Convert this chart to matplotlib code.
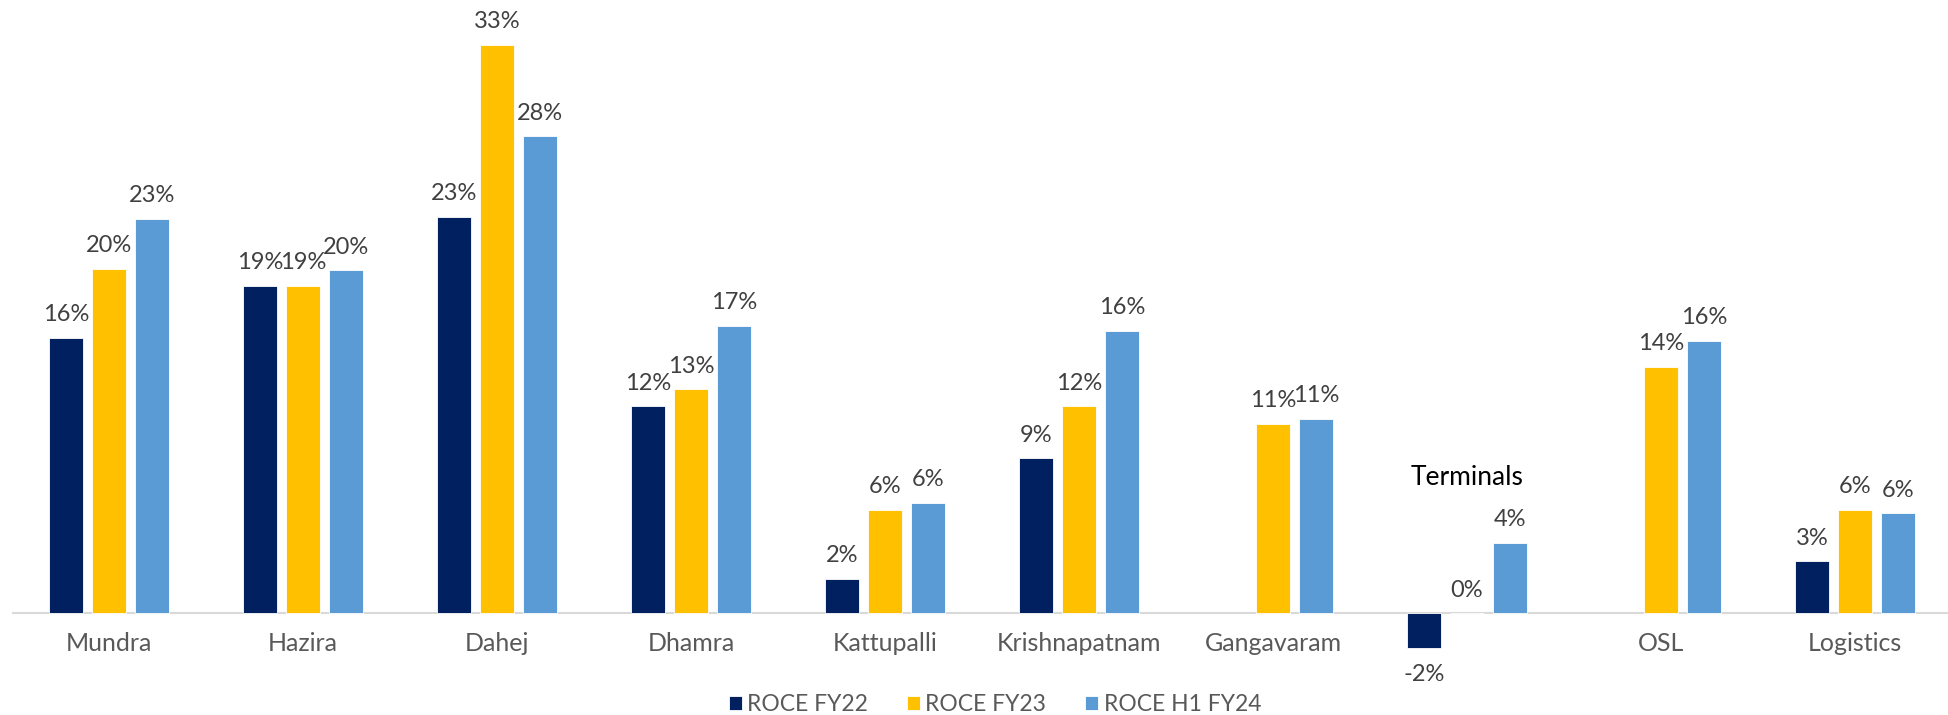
import numpy as np
import matplotlib.pyplot as plt

plt.rcParams['font.family'] = ['Lato', 'DejaVu Sans']

ports = ['Mundra', 'Hazira', 'Dahej', 'Dhamra', 'Kattupalli', 'Krishnapatnam',
         'Gangavaram', 'Terminals', 'OSL', 'Logistics']
roce_fy22 = [16, 19, 23, 12, 2, 9, np.nan, -2, np.nan, 3]
roce_fy23 = [20, 19, 33, 13, 6, 12, 11, 0, 14.3, 6]
roce_h1fy24 = [22.9, 19.9, 27.7, 16.7, 6.4, 16.4, 11.3, 4.1, 15.8, 5.8]
series_names = ['ROCE FY22', 'ROCE FY23', 'ROCE H1 FY24']
colors = ['#002060', '#FFC000', '#5B9BD5']

fig = plt.figure(figsize=(19.49, 7.15), dpi=100)
ax = fig.add_axes([12 / 1949, 33 / 715, 1940 / 1949, 682 / 715])

x = np.arange(len(ports))
width = 0.175
step = 0.222
for i, (vals, name, col) in enumerate(zip([roce_fy22, roce_fy23, roce_h1fy24], series_names, colors)):
    pos = x + (i - 1) * step
    ax.bar(pos, vals, width, color=col, label=name, edgecolor='white', linewidth=0.6)
    for p, v in zip(pos, vals):
        if np.isnan(v):
            continue
        if v < 0:
            ax.annotate(f'{v:.0f}%', (p, v), xytext=(0, -12), textcoords='offset points',
                        ha='center', va='top', fontsize=17, color='#404040')
        else:
            ax.annotate(f'{v:.0f}%', (p, v), xytext=(0, 9), textcoords='offset points',
                        ha='center', va='bottom', fontsize=17, color='#404040')

ax.set_xlim(-0.5, len(ports) - 0.5)
ax.set_ylim(-4, 35.6)
ax.axhline(0, color='#D9D9D9', linewidth=1.5, zorder=0)
ax.set_xticks([])
ax.set_yticks([])
for s in ax.spines.values():
    s.set_visible(False)

# category names just under the zero line; Terminals sits higher up in black
for xi, name in zip(x, ports):
    if name == 'Terminals':
        ax.text(xi, 7.9, name, ha='center', va='center', fontsize=19, color='black')
    else:
        ax.text(xi, -1.75, name, ha='center', va='center', fontsize=18, color='#595959')

fig.legend(loc='center', bbox_to_anchor=(995 / 1949, 0.015), ncol=3, frameon=False,
           fontsize=16.5, labelcolor='#595959', handlelength=0.55, handleheight=0.55,
           handletextpad=0.25, columnspacing=1.7)

fig.savefig('out.png', dpi=100)
